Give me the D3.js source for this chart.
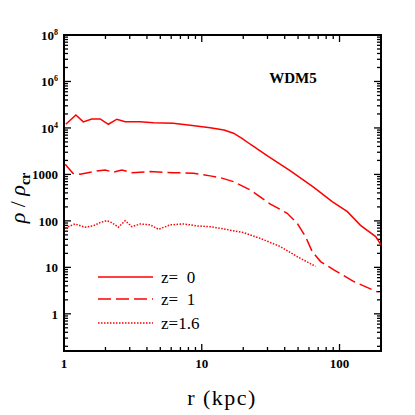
<!DOCTYPE html>
<html>
<head>
<meta charset="utf-8">
<script src="https://cdn.jsdelivr.net/npm/d3@7"></script>
<style>
  body { margin: 0; background: #fff; }
  text { font-family: "Liberation Serif", "DejaVu Serif", serif; }
</style>
</head>
<body>
<div id="chart"></div>
<script>
// density profiles
const rZ0 = [1.03, 1.22, 1.38, 1.59, 1.83, 2.10, 2.42, 2.78, 3.57, 4.46, 6.2, 8.25, 11.5, 14.5, 17.0, 19.7, 22.5, 29.8, 44, 64.7, 88.5, 114, 142, 183, 200];
const rhoZ0 = [12000, 19000, 13500, 15600, 15600, 12000, 15400, 13600, 13600, 13000, 12600, 11400, 10100, 9000, 7700, 5900, 4460, 2540, 1190, 531, 260, 158, 80, 46, 30.5];

const rZ1 = [1.02, 1.16, 1.31, 1.63, 1.99, 2.28, 2.63, 3.11, 4.22, 6.24, 8.7, 11.5, 13.6, 17.0, 22.5, 31.5, 41.7, 49.3, 56.6, 63.3, 72.8, 91, 127, 188];
const rhoZ1 = [1660, 1060, 1010, 1150, 1250, 1110, 1250, 1090, 1150, 1090, 1060, 930, 853, 700, 464, 229, 146, 89, 46, 21.9, 13.3, 8.8, 4.95, 2.97];

const rZ16 = [1.02, 1.20, 1.42, 1.63, 1.83, 2.04, 2.22, 2.48, 2.78, 3.11, 3.57, 4.22, 4.85, 5.9, 7.4, 9.2, 11.5, 14.4, 20.1, 26.6, 37.2, 49.3, 66.9];
const rhoZ16 = [70, 86, 73, 78, 92, 101, 92, 73, 101, 75, 86, 82, 66, 82, 86, 78, 75, 67, 56, 42, 28, 17, 10.5];

const legendLabels = ["z=  0", "z=  1", "z=1.6"];
const xTickLabels = [[1, "1"], [10, "10"], [100, "100"]];
const yTickLabels = [[1e6, "10", "8"], [1e5, "10", "6"], [1e4, "10", "4"], [1000, "1000"], [100, "100"], [10, "10"], [1, "1"]];

const width = 415, height = 415;
const margin = { top: 35, right: 34, bottom: 64, left: 64 };

const svg = d3.select("#chart").append("svg")
  .attr("width", width)
  .attr("height", height);

const x = d3.scaleLog().domain([1, 200]).range([margin.left, width - margin.right]);
const y = d3.scaleLog().domain([Math.pow(10, -0.8), 1e6]).range([height - margin.bottom, margin.top]);

const x0 = x.range()[0], x1 = x.range()[1];
const y0 = y.range()[0], y1 = y.range()[1];

// tick positions: majors at decades, minors at 2..9
function logTicks(lo, hi) {
  const out = [];
  for (let e = Math.floor(Math.log10(lo)); e <= Math.ceil(Math.log10(hi)); e++) {
    for (let k = 1; k <= 9; k++) {
      const v = k * Math.pow(10, e);
      if (v >= lo * 0.999 && v <= hi * 1.001) out.push({ v, major: k === 1 });
    }
  }
  return out;
}

const ticks = svg.append("g").attr("stroke", "#000").attr("stroke-width", 1.3);
logTicks(1, 200).forEach(t => {
  const len = t.major ? 7 : 4;
  ticks.append("line").attr("x1", x(t.v)).attr("x2", x(t.v)).attr("y1", y0).attr("y2", y0 - len);
  ticks.append("line").attr("x1", x(t.v)).attr("x2", x(t.v)).attr("y1", y1).attr("y2", y1 + len);
});
logTicks(Math.pow(10, -0.8), 1e6).forEach(t => {
  const len = t.major ? 7 : 4;
  ticks.append("line").attr("y1", y(t.v)).attr("y2", y(t.v)).attr("x1", x0).attr("x2", x0 + len);
  ticks.append("line").attr("y1", y(t.v)).attr("y2", y(t.v)).attr("x1", x1).attr("x2", x1 - len);
});

svg.append("rect")
  .attr("x", x0).attr("y", y1)
  .attr("width", x1 - x0).attr("height", y0 - y1)
  .attr("fill", "none").attr("stroke", "#000").attr("stroke-width", 2);

// tick labels
svg.append("g").selectAll("text")
  .data(xTickLabels)
  .join("text")
  .attr("x", d => x(d[0]))
  .attr("y", y0 + 17)
  .attr("text-anchor", "middle")
  .attr("font-size", 13)
  .attr("font-weight", "bold")
  .text(d => d[1]);

const yl = svg.append("g").selectAll("text")
  .data(yTickLabels)
  .join("text")
  .attr("x", x0 - 6)
  .attr("y", d => y(d[0]) + 5)
  .attr("text-anchor", "end")
  .attr("font-size", 13)
  .attr("font-weight", "bold");
yl.append("tspan").text(d => d[1]);
yl.filter(d => d[2]).append("tspan")
  .attr("dy", -5)
  .attr("font-size", 8)
  .text(d => d[2]);

// axis titles
svg.append("text")
  .attr("x", 222).attr("y", 405)
  .attr("text-anchor", "middle")
  .attr("font-size", 22)
  .attr("letter-spacing", 1.5)
  .text("r (kpc)");

const ylab = svg.append("text")
  .attr("transform", "translate(25,198) rotate(-90)")
  .attr("text-anchor", "middle")
  .attr("font-size", 22);
ylab.append("tspan").attr("font-style", "italic").text("ρ");
ylab.append("tspan").text(" / ");
ylab.append("tspan").attr("font-style", "italic").text("ρ");
ylab.append("tspan").attr("dy", 5).attr("font-size", 14).attr("font-weight", "bold").text("cr");

svg.append("text")
  .attr("x", 293).attr("y", 83)
  .attr("text-anchor", "middle")
  .attr("font-size", 15)
  .attr("font-weight", "bold")
  .text("WDM5");

// profiles
const series = [
  { r: rZ0, rho: rhoZ0, dash: null },
  { r: rZ1, rho: rhoZ1, dash: "13,5" },
  { r: rZ16, rho: rhoZ16, dash: "1.5,1.5" }
];

const line = d3.line().x(d => x(d[0])).y(d => y(d[1]));

svg.append("defs").append("clipPath").attr("id", "plotclip")
  .append("rect").attr("x", x0).attr("y", y1).attr("width", x1 - x0).attr("height", y0 - y1);

svg.append("g").attr("clip-path", "url(#plotclip)")
  .selectAll("path")
  .data(series)
  .join("path")
  .attr("d", s => line(d3.zip(s.r, s.rho)))
  .attr("fill", "none")
  .attr("stroke", "#ff0000")
  .attr("stroke-width", 1.5)
  .attr("stroke-dasharray", s => s.dash);

// legend
const legend = svg.append("g");
const legY = [277, 299, 323];
series.forEach((s, i) => {
  legend.append("line")
    .attr("x1", 98).attr("x2", 153)
    .attr("y1", legY[i]).attr("y2", legY[i])
    .attr("stroke", "#ff0000")
    .attr("stroke-width", 1.5)
    .attr("stroke-dasharray", s.dash);
  legend.append("text")
    .attr("x", 161).attr("y", legY[i] + 6)
    .attr("font-size", 17)
    .attr("xml:space", "preserve")
    .style("white-space", "pre")
    .text(legendLabels[i]);
});
</script>
</body>
</html>
